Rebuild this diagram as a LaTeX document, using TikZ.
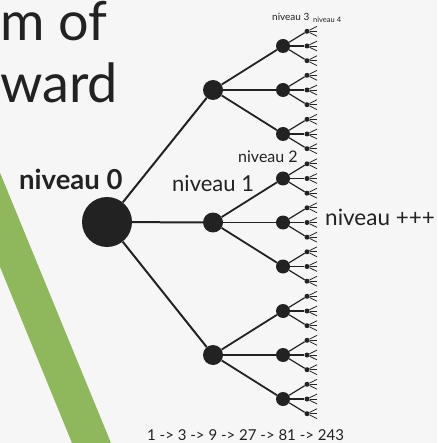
\documentclass[tikz,border=0pt]{standalone}
\usepackage{fontspec}
\setmainfont{Lato}
\definecolor{inkdark}{HTML}{222222}
\definecolor{bandgreen}{HTML}{8FB85C}
\definecolor{paper}{HTML}{F6F6F6}

\begin{document}
\begin{tikzpicture}[x=1pt,y=-1pt,
                    dot/.style={circle,fill=inkdark,inner sep=0pt},
                    root node/.style={dot,minimum size=50pt},
                    level one/.style={dot,minimum size=20pt},
                    level two/.style={dot,minimum size=14pt},
                    level three/.style={dot,minimum size=5pt},
                    branch/.style={draw=inkdark,line width=#1},
                    label/.style={text=inkdark,inner sep=0pt,anchor=base west}]
      \fill[paper] (0,0) rectangle (437,443);
      \useasboundingbox (0,0) rectangle (437,443);

      % green band on the left
      \begin{scope}
        \clip (0,0) rectangle (437,443);
        \fill[bandgreen] (-20,124) -- (-20,218) -- (72,443) -- (111,443) -- cycle;
      \end{scope}

      % title
      \node[label,font=\fontsize{54}{54}\selectfont] (title1) at (0,41) {m of};
      \node[label,font=\fontsize{54}{54}\selectfont] (title2) at (0,103) {ward};

      % the tree
      \node[root node] (n0) at (107,222) {};
      \foreach \i in {0,1,2} {
        \node[level one] (a\i) at (213,{90+132.5*\i}) {};
        \draw[branch=2pt] (n0) -- (a\i);
        \foreach \j in {0,1,2} {
          \pgfmathsetmacro\yb{46+132.5*\i+44*\j}
          \node[level two] (b\i\j) at (283,\yb) {};
          \draw[branch=1.8pt] (a\i) -- (b\i\j);
          \foreach \k in {0,1,2} {
            \pgfmathsetmacro\yc{\yb+14.7*(\k-1)}
            \node[level three] (c\i\j\k) at (307,\yc) {};
            \draw[branch=1.2pt] (b\i\j) -- (c\i\j\k);
            \foreach \m in {0,1,2} {
              \coordinate (d\i\j\k\m) at (317,{\yc+4.9*(\m-1)});
              \draw[branch=0.8pt] (c\i\j\k) -- (d\i\j\k\m);
            }
          }
        }
      }

      % levels
      \node[label,font=\bfseries\fontsize{27.5}{27.5}\selectfont] (lvl0) at (19,190) {niveau 0};
      \node[label,font=\fontsize{22}{22}\selectfont] (lvl1) at (172,192) {niveau 1};
      \node[label,font=\fontsize{16}{16}\selectfont] (lvl2) at (238,163) {niveau 2};
      \node[label,font=\fontsize{10}{10}\selectfont] (lvl3) at (272,21) {niveau 3};
      \node[label,font=\fontsize{7.5}{7.5}\selectfont] (lvl4) at (313,23) {niveau 4};
      \node[label,font=\fontsize{22.5}{22.5}\selectfont] (lvlx) at (325,225) {niveau +++};
      \node[label,font=\fontsize{15}{15}\selectfont] (count) at (147,440) {1 -> 3 -> 9 -> 27 -> 81 -> 243};
\end{tikzpicture}
\end{document}
